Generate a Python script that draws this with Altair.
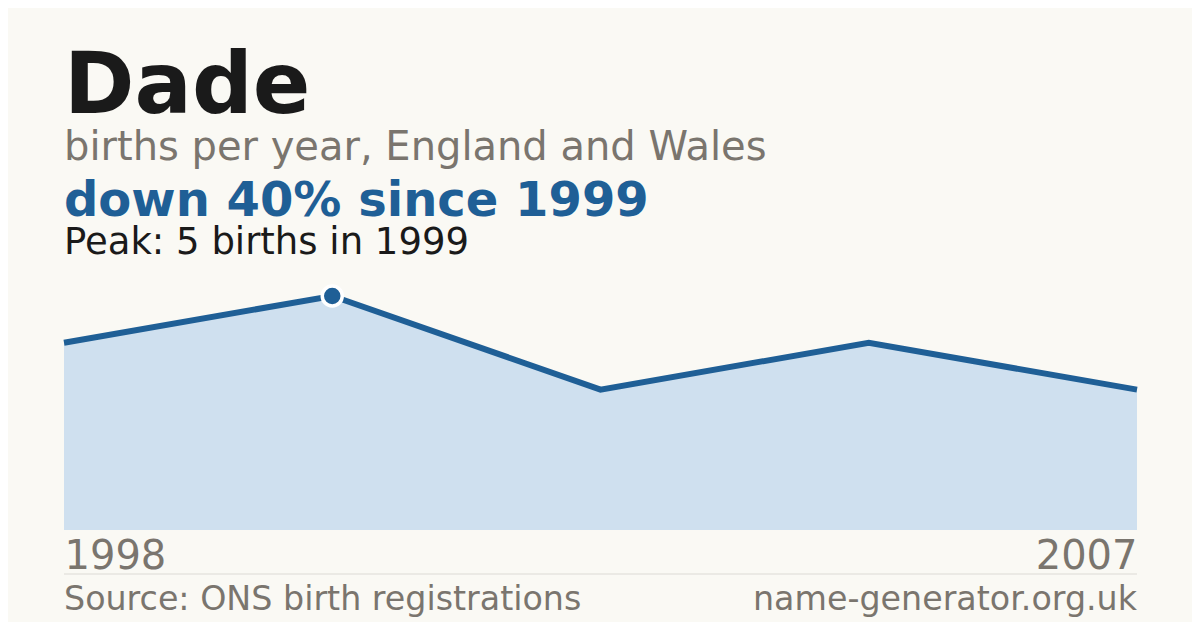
import altair as alt
import pandas as pd

# ---- data ----
years = ["1998", "1999", "2002", "2005", "2007"]
births = [4, 5, 3, 4, 3]
name = "Dade"
subtitle = "births per year, England and Wales"
headline = "down 40% since 1999"
peak_note = "Peak: 5 births in 1999"
source_left = "Source: ONS birth registrations"
source_right = "name-generator.org.uk"
axis_years = ["1998", "2007"]

BG = "#faf9f4"
BLUE = "#1f5f96"
FILL = "#cfe0ef"
GREY = "#7a756e"
INK = "#1a1a1a"
FONT = "DejaVu Sans"

W, H = 1073, 522

df = pd.DataFrame({"year": years, "births": births})
peak = df[df["births"] == df["births"].max()].head(1)

x = alt.X("year:O", sort=years,
          scale=alt.Scale(type="point", padding=0),
          axis=alt.Axis(values=axis_years, title=None, domain=False, ticks=False, grid=False,
                        labelAngle=0, labelFontSize=40, labelColor=GREY, labelFont=FONT,
                        labelPadding=6,
                        labelAlign=alt.ExprRef("datum.value == '1998' ? 'left' : 'right'")))
y = alt.Y("births:Q", scale=alt.Scale(domain=[0, H / 46.8], nice=False, zero=True), axis=None)

base = alt.Chart(df)
area = base.mark_area(color=FILL, opacity=1).encode(x=x, y=y)
line = base.mark_line(color=BLUE, strokeWidth=6, strokeJoin="miter").encode(x=x, y=y)
dot = alt.Chart(peak).mark_point(filled=True, shape="circle", size=400, fill=BLUE, stroke="white",
                                 strokeWidth=3.5, opacity=1).encode(x=x, y=y)

def label(text, px, py, size, color, weight="normal", align="left"):
    return alt.Chart(pd.DataFrame({"t": [text]})).mark_text(
        align=align, baseline="alphabetic", font=FONT, fontSize=size, fontWeight=weight, color=color
    ).encode(text="t:N", x=alt.value(px), y=alt.value(py))

texts = [
    label(name, 0, 105, 85, INK, "bold"),
    label(subtitle, 0, 152, 40, GREY),
    label(headline, 0, 208, 48, BLUE, "bold"),
    label(peak_note, 0, 246, 37, INK),
    label(source_left, 0, 602, 33.3, GREY),
    label(source_right, W, 602, 33.3, GREY, align="right"),
]

sep = alt.Chart(pd.DataFrame({"a": [0]})).mark_rule(color="#dcdad5", strokeWidth=1).encode(
    x=alt.value(0), x2=alt.value(W), y=alt.value(566))

chart = alt.layer(area, line, dot, sep, *texts).properties(
    width=W, height=H, background=BG,
    padding={"left": 56, "top": 0, "right": 55, "bottom": 92},
    autosize=alt.AutoSizeParams(type="none"),
).configure_view(stroke=None)

chart.save("out.html", embed_options={"renderer": "svg", "actions": False})
